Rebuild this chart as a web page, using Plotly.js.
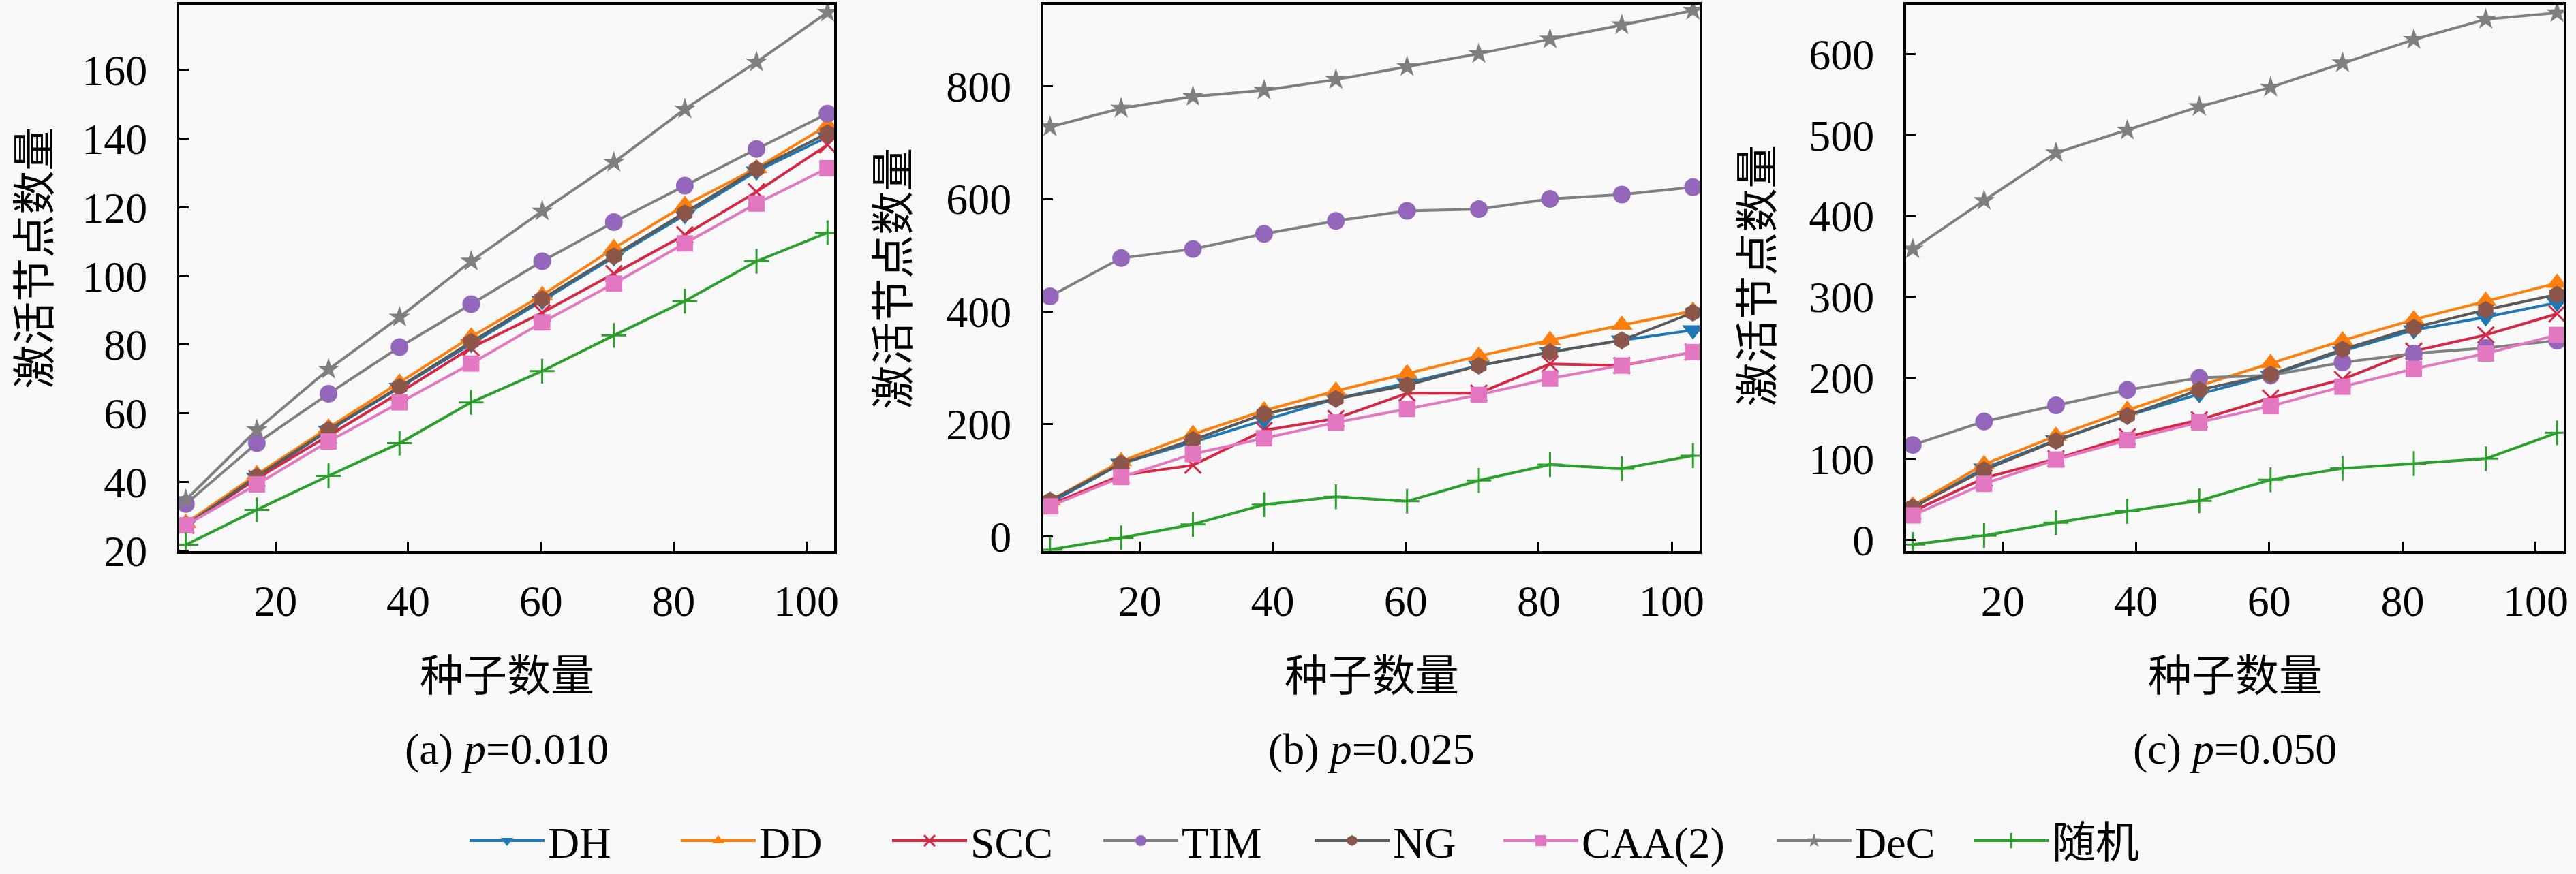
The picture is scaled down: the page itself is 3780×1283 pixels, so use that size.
<!DOCTYPE html>
<html>
<head>
<meta charset="utf-8">
<script src="https://cdn.plot.ly/plotly-3.0.1.min.js"></script>
<style>
  html, body { margin: 0; padding: 0; background: #f9f9f9; }
  #chart { width: 3780px; height: 1283px; }
</style>
</head>
<body>
<div id="chart"></div>
<script>
// seed counts (x axis), shared by the three panels
const seeds = [6.5, 17.2, 28, 38.7, 49.5, 60.2, 71, 81.7, 92.5, 103.2];

const names = ['DH', 'DD', 'SCC', 'TIM', 'NG', 'CAA(2)', 'DeC', '随机'];

// (a) p=0.010
const dhA   = [27.5, 41.3, 55.0, 67.5, 80.3, 92.8, 105.5, 117.8, 130.5, 140.5];
const ddA   = [28.0, 42.2, 55.8, 68.9, 82.3, 94.4, 108.1, 120.6, 131.4, 143.9];
const sccA  = [27.4, 41.0, 53.5, 66.0, 79.1, 89.3, 100.7, 112.0, 124.5, 138.2];
const timA  = [33.6, 51.3, 65.7, 79.3, 91.8, 104.3, 115.7, 126.3, 137.0, 147.3];
const ngA   = [27.4, 41.6, 55.2, 67.7, 80.8, 93.3, 105.8, 118.3, 131.1, 141.6];
const caaA  = [27.4, 39.3, 51.8, 63.2, 74.5, 86.5, 97.8, 109.5, 121.1, 131.4];
const decA  = [34.8, 55.2, 72.8, 88.0, 104.3, 118.9, 133.1, 148.6, 162.3, 176.8];
const randA = [21.7, 31.9, 41.8, 51.3, 63.2, 72.3, 82.7, 92.7, 104.3, 112.6];

// (b) p=0.025
const dhB   = [60, 130, 168, 207, 245, 273, 304, 328, 349, 367];
const ddB   = [64, 134, 182, 224, 259, 290, 321, 349, 376, 401];
const sccB  = [57, 109, 127, 189, 210, 255, 255, 307, 304, 328];
const timB  = [427, 495, 511, 538, 561, 579, 582, 600, 608, 621];
const ngB   = [64, 130, 172, 218, 245, 269, 304, 328, 349, 398];
const caaB  = [54, 106, 147, 175, 203, 227, 252, 281, 304, 328];
const decB  = [728, 761, 782, 793, 812, 835, 858, 884, 909, 935];
const randB = [-23, -2, 22, 57, 71, 63, 100, 128, 121, 144];

// (c) p=0.050
const dhC   = [40, 88, 123, 153, 180, 203, 233, 259, 275, 293];
const ddC   = [42, 93, 128, 160, 190, 218, 246, 272, 295, 317];
const sccC  = [35, 76, 100, 127, 148, 175, 198, 233, 253, 279];
const timC  = [117, 146, 166, 185, 200, 203, 219, 230, 237, 246];
const ngC   = [40, 86, 122, 153, 185, 204, 235, 262, 284, 303];
const caaC  = [30, 69, 99, 123, 145, 165, 189, 211, 230, 253];
const decC  = [359, 419, 478, 506, 535, 559, 589, 618, 643, 651];
const randC = [-6, 5, 21, 35, 48, 74, 88, 94, 100, 132];

const panelData = [
  [dhA, ddA, sccA, timA, ngA, caaA, decA, randA],
  [dhB, ddB, sccB, timB, ngB, caaB, decB, randB],
  [dhC, ddC, sccC, timC, ngC, caaC, decC, randC]
];
const captions = ['(a) <i>p</i>=0.010', '(b) <i>p</i>=0.025', '(c) <i>p</i>=0.050'];

const styles = [
  {line: '#1f77b4', marker: '#1f77b4', symbol: 'triangle-down', size: 28},
  {line: '#ff7f0e', marker: '#ff7f0e', symbol: 'triangle-up', size: 28},
  {line: '#d62745', marker: '#d62745', symbol: 'x-thin', size: 24},
  {line: '#808080', marker: '#9467bd', symbol: 'circle', size: 26},
  {line: '#5a5a5a', marker: '#8c564b', symbol: 'hexagon', size: 26},
  {line: '#e377c2', marker: '#e377c2', symbol: 'square', size: 24},
  {line: '#7f7f7f', marker: '#7f7f7f', symbol: 'star', size: 24},
  {line: '#2ca02c', marker: '#2ca02c', symbol: 'cross-thin', size: 26}
];
// which legend box each series goes into (split to reproduce the uneven spacing)
const legendOf = ['legend', 'legend', 'legend', 'legend', 'legend', 'legend2', 'legend3', 'legend3'];

const W = 3780, H = 1283;
const FONT = 'Liberation Serif, "DejaVu Serif", "Noto Sans CJK SC", serif';
const xPix = [[263, 1224], [1531, 2494], [2797, 3762]];
const yRanges = [[19.8, 179], [-26, 945], [-14.5, 661]];
const yDticks = [20, 200, 100];
const yTitleX = [52, 1312, 2580];
const yTitleY = [379, 409, 405];

const legendBase = {
  orientation: 'h',
  xanchor: 'left',
  y: 1 - 1235 / H, yanchor: 'middle',
  font: {family: FONT, size: 64, color: '#000'},
  bgcolor: 'rgba(0,0,0,0)',
  itemwidth: 110,
  entrywidthmode: 'pixels'
};

const traces = [];
const layout = {
  width: W, height: H,
  margin: {l: 0, r: 0, t: 0, b: 0},
  paper_bgcolor: '#f9f9f9',
  plot_bgcolor: '#f9f9f9',
  font: {family: FONT, size: 62, color: '#000'},
  showlegend: true,
  legend: Object.assign({}, legendBase, {x: 684 / W, entrywidth: 185}),
  legend2: Object.assign({}, legendBase, {x: 2201 / W}),
  legend3: Object.assign({}, legendBase, {x: 2602 / W, entrywidth: 164}),
  annotations: []
};

panelData.forEach((series, p) => {
  const xa = p === 0 ? 'x' : 'x' + (p + 1);
  const ya = p === 0 ? 'y' : 'y' + (p + 1);
  series.forEach((vals, i) => {
    const s = styles[i];
    traces.push({
      x: seeds, y: vals, name: names[i],
      type: 'scatter', mode: 'lines+markers',
      xaxis: xa, yaxis: ya,
      showlegend: p === 0,
      legend: legendOf[i],
      legendgroup: names[i],
      line: {color: s.line, width: 4},
      marker: {
        symbol: s.symbol, size: s.size, color: s.marker,
        line: {color: s.marker, width: (s.symbol === 'x-thin' || s.symbol === 'cross-thin') ? 3 : 0}
      }
    });
  });

  const axKey = p === 0 ? '' : String(p + 1);
  layout['xaxis' + axKey] = {
    domain: [xPix[p][0] / W, xPix[p][1] / W],
    anchor: ya,
    range: [5.5, 104.2],
    tickvals: [20, 40, 60, 80, 100],
    ticks: 'inside', ticklen: 14, tickwidth: 3, tickcolor: '#000',
    ticklabelstandoff: 14,
    showline: true, linewidth: 4, linecolor: '#000', mirror: true,
    showgrid: false, zeroline: false,
    tickfont: {family: FONT, size: 64}
  };
  layout['yaxis' + axKey] = {
    domain: [1 - 810 / H, 1 - 7 / H],
    anchor: xa,
    range: yRanges[p],
    dtick: yDticks[p],
    ticks: 'inside', ticklen: 14, tickwidth: 3, tickcolor: '#000',
    ticklabelstandoff: 30,
    showline: true, linewidth: 4, linecolor: '#000', mirror: true,
    showgrid: false, zeroline: false,
    tickfont: {family: FONT, size: 64}
  };

  const cx = (xPix[p][0] + xPix[p][1]) / 2 / W;
  layout.annotations.push({
    xref: 'paper', yref: 'paper', x: yTitleX[p] / W, y: 1 - yTitleY[p] / H,
    text: '激活节点数量', textangle: -90, showarrow: false,
    xanchor: 'center', yanchor: 'middle',
    font: {family: FONT, size: 64}
  });
  layout.annotations.push({
    xref: 'paper', yref: 'paper', x: cx, y: 1 - 993 / H,
    text: '种子数量', showarrow: false,
    xanchor: 'center', yanchor: 'middle',
    font: {family: FONT, size: 64}
  });
  layout.annotations.push({
    xref: 'paper', yref: 'paper', x: cx, y: 1 - 1100 / H,
    text: captions[p], showarrow: false,
    xanchor: 'center', yanchor: 'middle',
    font: {family: FONT, size: 64}
  });
});

Plotly.newPlot('chart', traces, layout, {staticPlot: true});
</script>
</body>
</html>
